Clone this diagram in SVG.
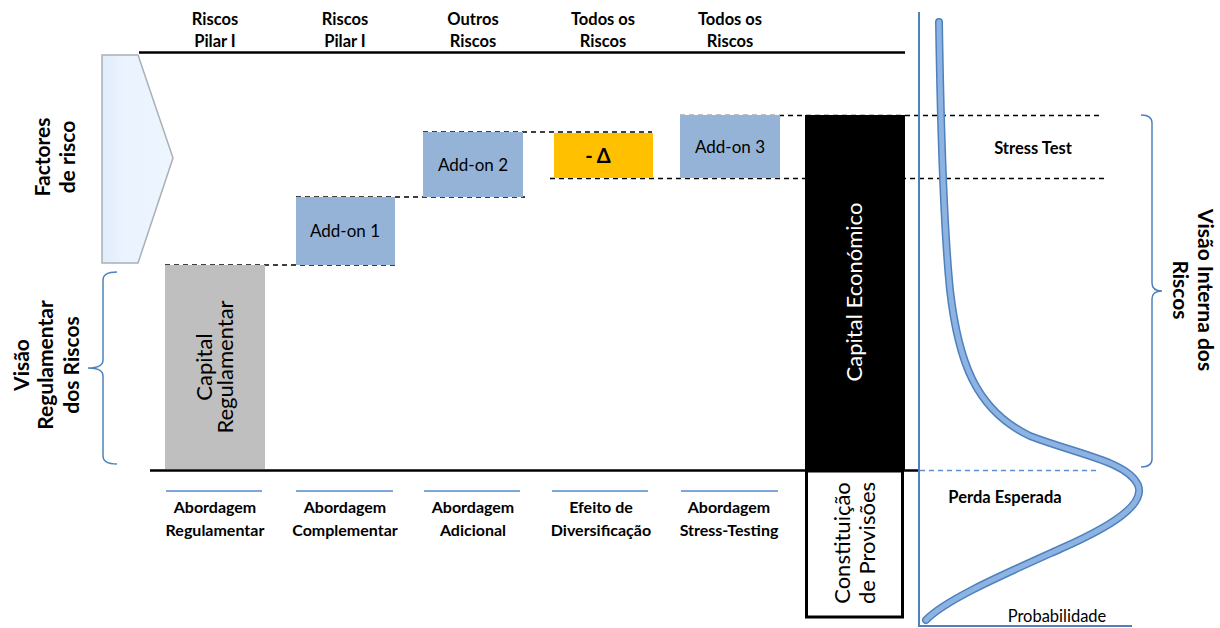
<svg xmlns="http://www.w3.org/2000/svg" width="1220" height="628" viewBox="0 0 1220 628">
<defs>
<linearGradient id="arrowFill" x1="0" y1="0" x2="1" y2="0">
<stop offset="0" stop-color="#E1ECFA"/>
<stop offset="0.3" stop-color="#EAF3FE"/>
<stop offset="1" stop-color="#EDF5FE"/>
</linearGradient>
<style>
.b{font-family:Lato,"Liberation Sans",sans-serif;font-weight:bold;fill:#000;text-anchor:middle}
.r{font-family:Lato,"Liberation Sans",sans-serif;font-weight:normal;fill:#000;text-anchor:middle}
.hdr{font-size:16.5px}
.lbl{font-size:16px}
.side{font-size:21px}
.white{fill:#fff}
.dash{stroke:#000;stroke-width:1.3;stroke-dasharray:5,4;fill:none}
.blue{stroke:#4F81BD;fill:none}
.uline{stroke:#7FA6D8;stroke-width:2}
.addon{fill:#95B3D7}
</style>
</defs>
<rect width="1220" height="628" fill="#fff"/>

<g id="headers">
<text class="b hdr" x="215" y="25">Riscos</text><text class="b hdr" x="215" y="47">Pilar I</text>
<text class="b hdr" x="345" y="25">Riscos</text><text class="b hdr" x="345" y="47">Pilar I</text>
<text class="b hdr" x="473" y="25">Outros</text><text class="b hdr" x="473" y="47">Riscos</text>
<text class="b hdr" x="603" y="25">Todos os</text><text class="b hdr" x="603" y="47">Riscos</text>
<text class="b hdr" x="730" y="25">Todos os</text><text class="b hdr" x="730" y="47">Riscos</text>
</g>

<g id="connectors">
<line x1="139" y1="52.5" x2="905" y2="52.5" stroke="#000" stroke-width="2.5"/>
<line x1="150" y1="470.5" x2="919" y2="470.5" stroke="#000" stroke-width="2.5"/>
<line class="dash" x1="165" y1="265" x2="396" y2="265"/>
<line class="dash" x1="296" y1="197" x2="525" y2="197"/>
<line class="dash" x1="423" y1="132" x2="652" y2="132"/>
<line class="dash" x1="550" y1="178.5" x2="1107" y2="178.5"/>
<line class="dash" x1="680" y1="115.5" x2="1100" y2="115.5"/>
<line x1="920" y1="470.5" x2="1100" y2="470.5" stroke="#5B8FD0" stroke-width="1.3" stroke-dasharray="5,4"/>
<line class="uline" x1="166" y1="491" x2="262" y2="491"/>
<line class="uline" x1="296" y1="491" x2="393" y2="491"/>
<line class="uline" x1="424" y1="491" x2="520" y2="491"/>
<line class="uline" x1="552" y1="491" x2="648" y2="491"/>
<line class="uline" x1="681" y1="491" x2="778" y2="491"/>
<path class="blue" stroke-width="1.5" d="M117,272 Q103,272 103,280 L103,360 Q103,368 88,368 Q103,368 103,376 L103,456 Q103,464 117,464"/>
<path class="blue" stroke-width="1.5" d="M1141,115 Q1152,115 1152,123 L1152,283 Q1152,291 1162,291 Q1152,291 1152,299 L1152,459 Q1152,467 1141,467"/>
</g>

<g id="factores">
<path d="M102,55 L138,55 L173,158 L138,263 L102,263 Z" fill="url(#arrowFill)" stroke="#A9B0B8" stroke-width="1.5"/>
<text class="b side" transform="translate(55,157) rotate(-90)"><tspan x="0" y="-5">Factores</tspan><tspan x="0" y="20">de risco</tspan></text>
</g>

<g id="visao-regulamentar">
<text class="b side" transform="translate(46,365) rotate(-90)"><tspan x="0" y="-17">Visão</tspan><tspan x="0" y="7">Regulamentar</tspan><tspan x="0" y="33">dos Riscos</tspan></text>
</g>

<g id="capital-regulamentar">
<rect x="165" y="265" width="100" height="204" fill="#BFBFBF"/>
<text class="r" font-size="22" transform="translate(215,367) rotate(-90)"><tspan x="0" y="-3">Capital</tspan><tspan x="0" y="18">Regulamentar</tspan></text>
</g>

<g id="addon1">
<rect class="addon" x="296" y="197" width="99" height="68"/>
<text class="r" font-size="17" x="345" y="237">Add-on 1</text>
</g>

<g id="addon2">
<rect class="addon" x="423" y="132" width="100" height="65"/>
<text class="r" font-size="17" x="473" y="171">Add-on 2</text>
</g>

<g id="delta">
<rect x="554" y="133" width="99" height="45" fill="#FFC000"/>
<text class="b" font-size="20" x="598" y="163">- Δ</text>
</g>

<g id="addon3">
<rect class="addon" x="680" y="115" width="100" height="63"/>
<text class="r" font-size="17" x="730" y="153">Add-on 3</text>
</g>

<g id="capital-economico">
<rect x="805" y="115" width="100" height="355" fill="#000"/>
<text class="r white" font-size="22" transform="translate(855,292) rotate(-90)" x="0" y="7">Capital Económico</text>
</g>

<g id="provisoes">
<rect x="806.5" y="471" width="96" height="146" fill="#fff" stroke="#000" stroke-width="3"/>
<text class="r" font-size="22" transform="translate(855,543) rotate(-90)"><tspan x="0" y="-5">Constituição</tspan><tspan x="0" y="20">de Provisões</tspan></text>
</g>

<g id="abordagens">
<text class="b lbl" x="215" y="513">Abordagem</text><text class="b lbl" x="215" y="536">Regulamentar</text>
<text class="b lbl" x="345" y="513">Abordagem</text><text class="b lbl" x="345" y="536">Complementar</text>
<text class="b lbl" x="473" y="513">Abordagem</text><text class="b lbl" x="473" y="536">Adicional</text>
<text class="b lbl" x="601" y="513">Efeito de</text><text class="b lbl" x="601" y="536">Diversificação</text>
<text class="b lbl" x="729" y="513">Abordagem</text><text class="b lbl" x="729" y="536">Stress-Testing</text>
</g>

<g id="distribuicao">
<line x1="919" y1="12" x2="919" y2="627" stroke="#4F81BD" stroke-width="2"/>
<line x1="919" y1="626" x2="1132" y2="626" stroke="#4F81BD" stroke-width="2"/>
<path d="M939,22 C941,150 944,230 950,290 C958,360 975,410 1030,436 C1080,455 1128,462 1138,485 C1146,505 1110,527 1060,549 C1000,576 945,600 926,620" fill="none" stroke="#4F81BD" stroke-width="8" stroke-linecap="round"/>
<path d="M939,22 C941,150 944,230 950,290 C958,360 975,410 1030,436 C1080,455 1128,462 1138,485 C1146,505 1110,527 1060,549 C1000,576 945,600 926,620" fill="none" stroke="#8DB3E2" stroke-width="5" stroke-linecap="round"/>
<text class="b" font-size="16.5" x="1033" y="154">Stress Test</text>
<text class="b" font-size="16.5" x="1005" y="503">Perda Esperada</text>
<text class="r" font-size="16.5" x="1057" y="622">Probabilidade</text>
</g>

<g id="visao-interna">
<text class="b side" transform="translate(1193,290) rotate(90)"><tspan x="0" y="-5">Visão Interna dos</tspan><tspan x="0" y="20">Riscos</tspan></text>
</g>
</svg>
